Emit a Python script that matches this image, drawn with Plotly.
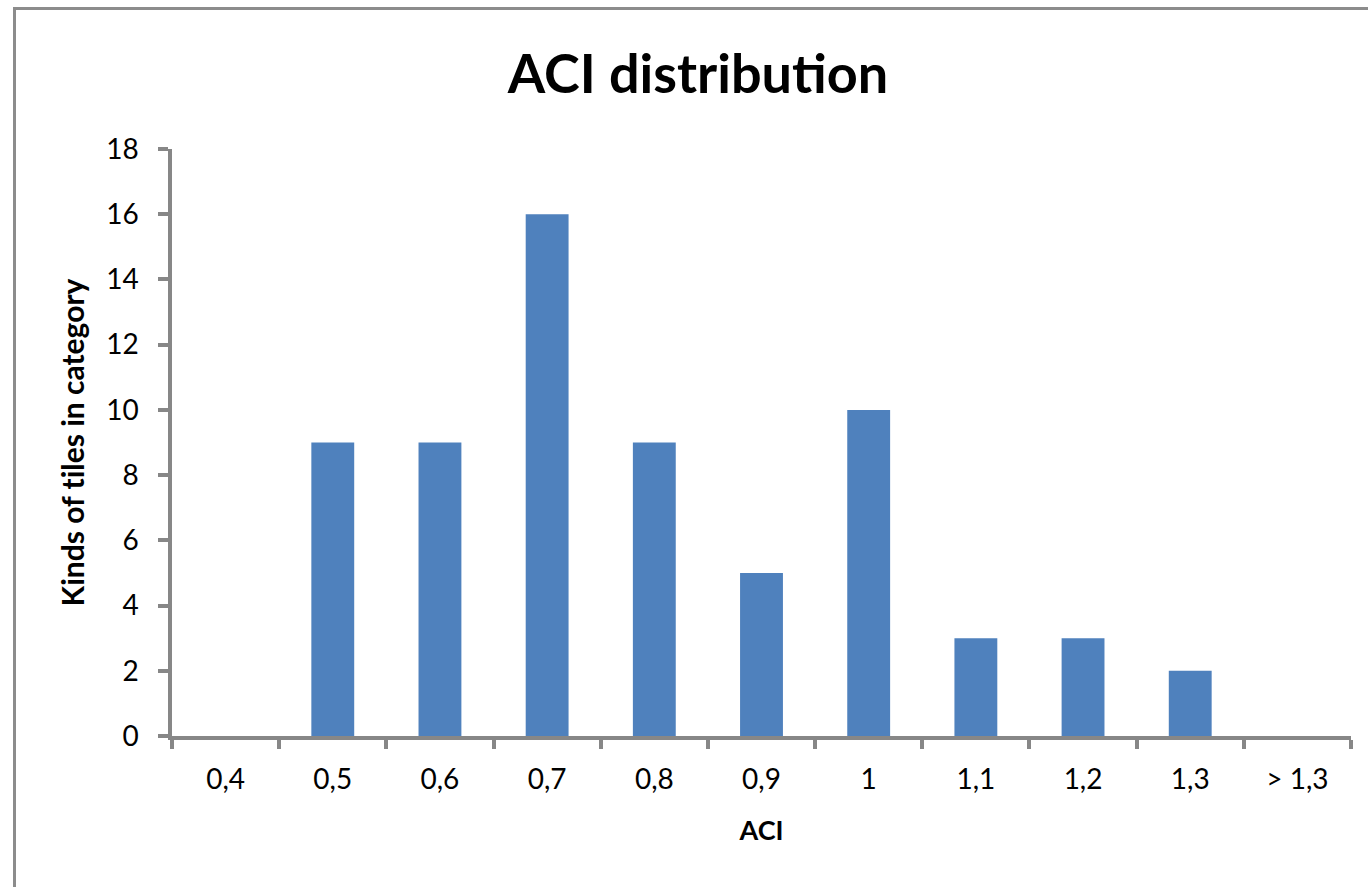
import plotly.graph_objects as go

categories = ["0,4", "0,5", "0,6", "0,7", "0,8", "0,9", "1", "1,1", "1,2", "1,3", "> 1,3"]
counts = [0, 9, 9, 16, 9, 5, 10, 3, 3, 2, 0]
y_ticks = [0, 2, 4, 6, 8, 10, 12, 14, 16, 18]

W, H = 1368, 887
L, R, T, B = 172, 17, 149, 151
pw, ph = W - L - R, H - T - B

FONT = "Lato"
AX = "#878787"
ZW = "\u200c"  # prevents the 'ti' ligature

fig = go.Figure(go.Bar(x=categories, y=counts, marker=dict(color="#4F81BD", line=dict(width=0)),
                       width=0.4))

fig.update_layout(
    width=W, height=H,
    margin=dict(l=L, r=R, t=T, b=B, autoexpand=False),
    paper_bgcolor="white", plot_bgcolor="white",
    font=dict(family=FONT, color="black"),
    title=dict(text="<b>ACI dis" + ZW + "tribu" + ZW + "tion</b>", x=698 / W, xanchor="center", xref="container",
               y=1 - 74 / H, yanchor="middle", yref="container",
               font=dict(family=FONT, size=54, color="black")),
    showlegend=False,
    bargap=0.6,
)
fig.update_xaxes(
    type="category", tickson="boundaries", ticks="outside", ticklen=9, tickwidth=3.5, tickcolor=AX,
    showline=True, linecolor=AX, linewidth=3.5, showgrid=False,
    tickfont=dict(family=FONT, size=28), ticklabelstandoff=16,
    title=dict(text="<b>ACI</b>", font=dict(family=FONT, size=27), standoff=28),
)
fig.update_yaxes(
    range=[0, 18], tickvals=y_ticks, ticks="outside", ticklen=10, tickwidth=3.5, tickcolor=AX,
    showline=True, linecolor=AX, linewidth=3.5, showgrid=False, zeroline=False,
    tickfont=dict(family=FONT, size=28), ticklabelstandoff=14,
    title=dict(text="<b>Kinds of " + "t" + ZW + "iles in category</b>", font=dict(family=FONT, size=30), standoff=14),
)

# outer chart border (extends past the picture on right and bottom)
fig.add_shape(type="rect", xref="paper", yref="paper",
              x0=(14.5 - L) / pw, x1=(W + 30 - L) / pw,
              y0=-(B + 30) / ph, y1=(ph + T - 8.5) / ph,
              line=dict(color="#8c8c8c", width=3), fillcolor="rgba(0,0,0,0)", layer="below")

fig.write_html("out.html")
